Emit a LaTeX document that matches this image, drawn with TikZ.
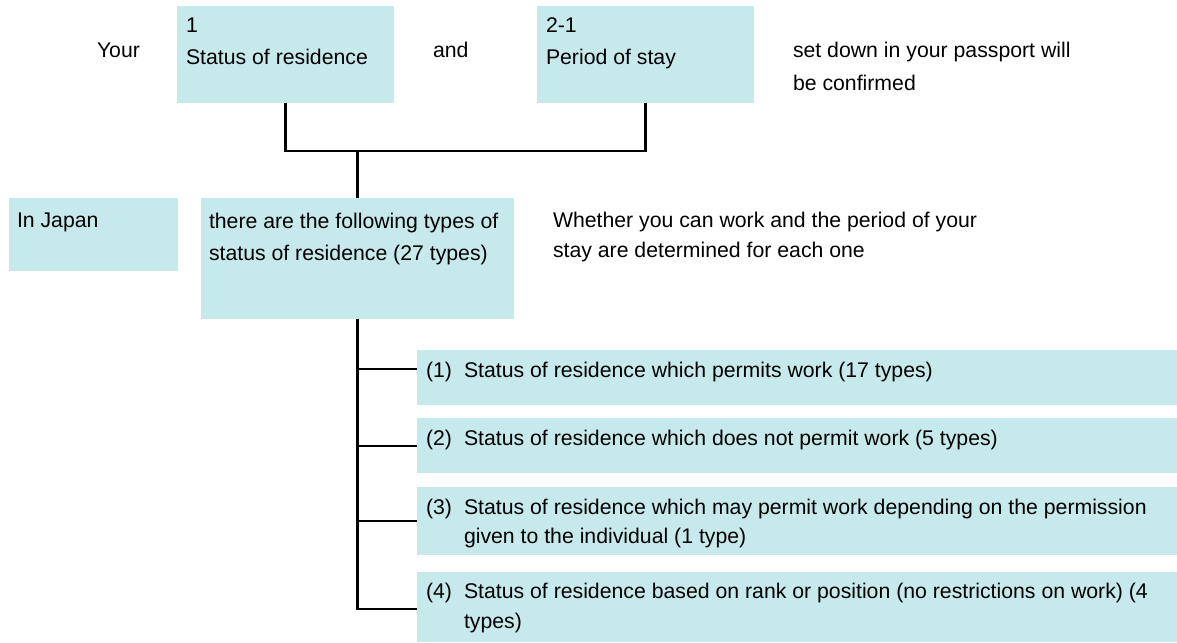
\documentclass[tikz,border=0pt]{standalone}
\usepackage{fontspec}
\setmainfont{Liberation Sans}
\definecolor{boxfill}{RGB}{198,234,236}
\begin{document}
\begin{tikzpicture}[x=1pt,y=-1pt,
  box/.style={fill=boxfill, draw=none, inner sep=0pt, outer sep=0pt, anchor=north west},
  txt/.style={anchor=base west, inner sep=0pt, outer sep=0pt, font=\fontsize{21.25}{30}\selectfont},
  conn/.style={line width=2.2pt, draw=black}]
\useasboundingbox (0,0) rectangle (1177,642);
% boxes
\node[box, minimum width=217pt, minimum height=97pt] (b1) at (177,6) {};
\node[box, minimum width=217pt, minimum height=97pt] (b2) at (537,6) {};
\node[box, minimum width=169pt, minimum height=73pt] (bj) at (9,198) {};
\node[box, minimum width=313pt, minimum height=121pt] (bm) at (201,198) {};
\node[box, minimum width=760pt, minimum height=55pt] (c1) at (417,350) {};
\node[box, minimum width=760pt, minimum height=55pt] (c2) at (417,418) {};
\node[box, minimum width=760pt, minimum height=68pt] (c3) at (417,487) {};
\node[box, minimum width=760pt, minimum height=70pt] (c4) at (417,572) {};
% texts
\node[txt] (tyour) at (97,58) {Your};
\node[txt] (t1a) at (186,33) {1};
\node[txt] (t1b) at (186,65) {Status of residence};
\node[txt] (tand) at (433,58) {and};
\node[txt] (t2a) at (546,33) {2-1};
\node[txt] (t2b) at (546,65) {Period of stay};
\node[txt] (tsd1) at (793,58) {set down in your passport will};
\node[txt] (tsd2) at (793,90) {be confirmed};
\node[txt] (tjp) at (17,227) {In Japan};
\node[txt] (tm1) at (209,228) {there are the following types of};
\node[txt] (tm2) at (209,260) {status of residence (27 types)};
\node[txt] (tw1) at (553,227) {Whether you can work and the period of your};
\node[txt] (tw2) at (553,257) {stay are determined for each one};
\node[txt] (tc1) at (426,377) {\makebox[38pt][l]{(1)}Status of residence which permits work (17 types)};
\node[txt] (tc2) at (426,445) {\makebox[38pt][l]{(2)}Status of residence which does not permit work (5 types)};
\node[txt] (tc3a) at (426,514) {\makebox[38pt][l]{(3)}Status of residence which may permit work depending on the permission};
\node[txt] (tc3b) at (464,543) {given to the individual (1 type)};
\node[txt] (tc4a) at (426,598) {\makebox[38pt][l]{(4)}Status of residence based on rank or position (no restrictions on work) (4};
\node[txt] (tc4b) at (464,628) {types)};
% connectors
\coordinate (j1) at (bm.north |- 0,151);
\coordinate (k1) at (bm.south |- 0,369);
\coordinate (k2) at (bm.south |- 0,446);
\coordinate (k3) at (bm.south |- 0,521);
\coordinate (k4) at (bm.south |- 0,609);
\draw[conn] (b1.south) |- (b2.south |- j1) -- (b2.south);
\draw[conn] (j1) -- (bm.north);
\draw[conn] (bm.south) -- (k4) -- (c4.west |- k4);
\draw[conn] (k1) -- (c1.west |- k1);
\draw[conn] (k2) -- (c2.west |- k2);
\draw[conn] (k3) -- (c3.west |- k3);
\end{tikzpicture}
\end{document}
